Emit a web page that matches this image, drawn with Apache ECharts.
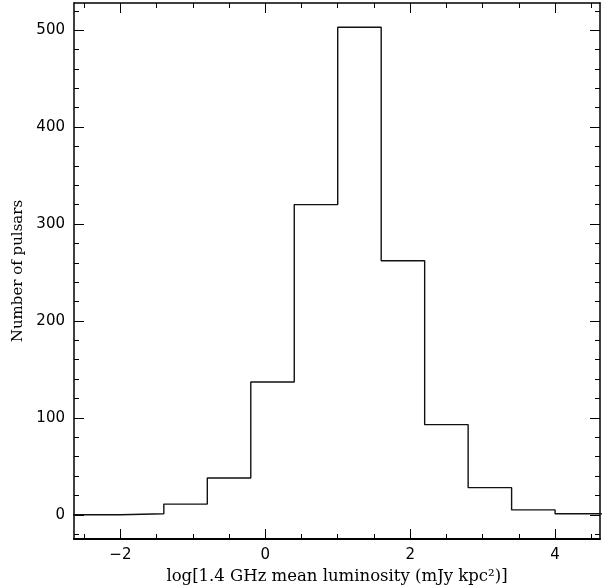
<!DOCTYPE html>
<html>
<head>
<meta charset="utf-8">
<script src="https://cdn.jsdelivr.net/npm/echarts@6/dist/echarts.min.js"></script>
<style>
html,body{margin:0;padding:0;background:#fff;}
#chart{width:607px;height:588px;}
</style>
</head>
<body>
<div id="chart"></div>
<script>
// Histogram bin edges (log luminosity) and counts per bin
const binEdges = [-3.2, -2.6, -2.0, -1.4, -0.8, -0.2, 0.4, 1.0, 1.6, 2.2, 2.8, 3.4, 4.0, 4.6, 5.2];
const counts   = [0, 0, 1, 11, 38, 137, 320, 503, 262, 93, 28, 5, 1, 0];

const xMajorTicks = [-2, 0, 2, 4];
const xMinorTicks = [-2.5, -1.5, -1, -0.5, 0.5, 1, 1.5, 2.5, 3, 3.5, 4.5];
const yMajorTicks = [0, 100, 200, 300, 400, 500];
const yMinorTicks = [-20, 20, 40, 60, 80, 120, 140, 160, 180, 220, 240, 260, 280, 320, 340, 360, 380, 420, 440, 460, 480, 520];

const xTitle = 'log[1.4 GHz mean luminosity (mJy kpc\u00B2)]';
const yTitle = 'Number of pulsars';

const X_MIN = -2.64, X_MAX = 4.62, Y_MIN = -25, Y_MAX = 528;

const stepData = binEdges.map((e, i) => [e, counts[Math.min(i, counts.length - 1)]]);

const labelFont = {fontFamily: 'DejaVu Sans', fontSize: 15, color: '#000'};

function xAx(pos, ticks, len, withLabel, lineW) {
  return {
    type: 'value', position: pos, min: X_MIN, max: X_MAX,
    axisLine: {show: lineW > 0, onZero: false, lineStyle: {color: '#000', width: lineW || 1}},
    axisTick: {show: true, inside: true, length: len, customValues: ticks, lineStyle: {color: '#000', width: 1}},
    axisLabel: withLabel ? Object.assign({show: true, customValues: ticks, margin: 9,
      formatter: v => (v < 0 ? '\u2212' + (-v) : String(v))}, labelFont) : {show: false},
    splitLine: {show: false}
  };
}
function yAx(pos, ticks, len, withLabel, lineW) {
  return {
    type: 'value', position: pos, min: Y_MIN, max: Y_MAX,
    axisLine: {show: lineW > 0, onZero: false, lineStyle: {color: '#000', width: lineW || 1}},
    axisTick: {show: true, inside: true, length: len, customValues: ticks, lineStyle: {color: '#000', width: 1}},
    axisLabel: withLabel ? Object.assign({show: true, customValues: ticks, margin: 9}, labelFont) : {show: false},
    splitLine: {show: false}
  };
}

const xBottom = xAx('bottom', xMajorTicks, 10, true, 2);
xBottom.name = xTitle;
xBottom.nameLocation = 'middle';
xBottom.nameGap = 25;
xBottom.nameTextStyle = {fontFamily: 'DejaVu Serif', fontSize: 16.5, color: '#000'};

const yLeft = yAx('left', yMajorTicks, 10, true, 1.5);
yLeft.name = yTitle;
yLeft.nameLocation = 'middle';
yLeft.nameGap = 42;
yLeft.nameTextStyle = {fontFamily: 'DejaVu Serif', fontSize: 15, color: '#000'};

const chart = echarts.init(document.getElementById('chart'), null, {renderer: 'canvas'});
chart.setOption({
  animation: false,
  backgroundColor: '#fff',
  grid: {left: 74, right: 7, top: 3, bottom: 49, containLabel: false, outerBoundsMode: 'none'},
  xAxis: [
    xBottom,
    xAx('bottom', xMinorTicks, 5, false, 0),
    xAx('top', xMajorTicks, 10, false, 1.5),
    xAx('top', xMinorTicks, 5, false, 0)
  ],
  yAxis: [
    yLeft,
    yAx('left', yMinorTicks, 5, false, 0),
    yAx('right', yMajorTicks, 10, false, 1.5),
    yAx('right', yMinorTicks, 5, false, 0)
  ],
  series: [{
    type: 'line',
    xAxisIndex: 0, yAxisIndex: 0,
    step: 'end',
    data: stepData,
    showSymbol: false,
    clip: true,
    lineStyle: {color: '#111', width: 1.4}
  }]
});
</script>
</body>
</html>
